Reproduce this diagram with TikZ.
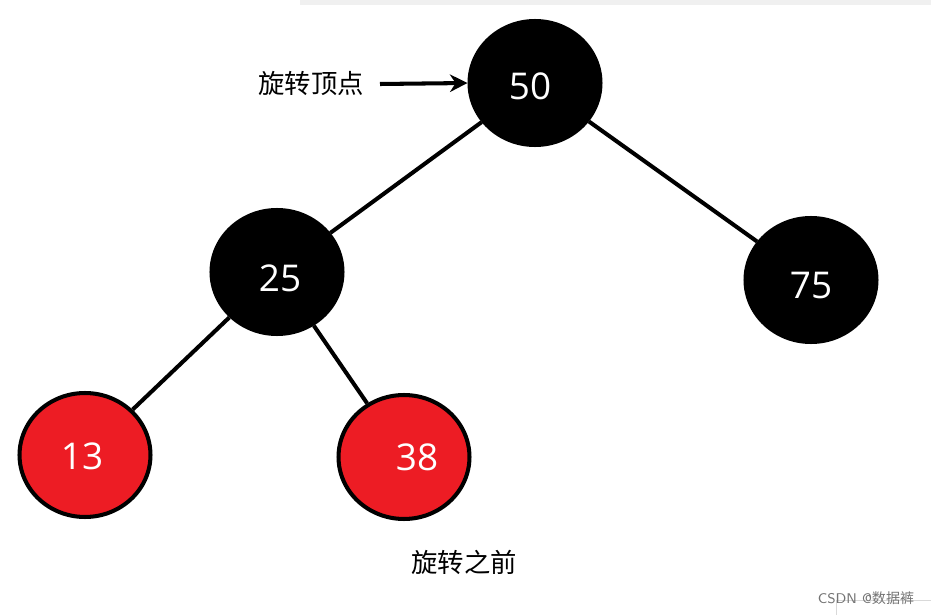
\documentclass[tikz,border=0pt]{standalone}
\usepackage{fontspec}
\setmainfont{Open Sans}
\newfontfamily\cjk{Noto Sans CJK SC}
\usetikzlibrary{shapes.geometric,arrows.meta}
\definecolor{rbred}{HTML}{ED1C24}
\tikzset{
  rb/.style={ellipse, draw=black, line width=2.3pt, inner sep=0pt,
    minimum width=2.62cm, minimum height=2.48cm, text=white,
    font=\fontsize{21}{25}\selectfont},
  blk/.style={rb, fill=black},
  rd/.style={rb, fill=rbred},
  edge/.style={line width=2.3pt}
}
\begin{document}
\begin{tikzpicture}[x=0.02cm,y=-0.02cm]
\useasboundingbox (0,0) rectangle (931,615);
% screen leftovers
\fill[black!6] (300,0) rectangle (931,5);
\draw[black!15, line width=0.5pt] (836,615) -- (836,600) -- (931,600);
\node[text=black!55, font=\fontsize{8}{10}\selectfont\sffamily, inner sep=0pt] (wm) at (866,598) {CSDN @{\cjk 数据裤}};
% tree
\node [blk] (n50) at (535,83) {};
\node [blk] (n25) at (277,272) {};
\node [blk] (n75) at (811,280) {};
\node [rd] (n13) at (85,455) {};
\node [rd] (n38) at (404,457) {};
\node [text=white, font=\fontsize{21}{25}\selectfont] (t50) at (530,86) {50};
\node [text=white, font=\fontsize{21}{25}\selectfont] (t25) at (280,278) {25};
\node [text=white, font=\fontsize{21}{25}\selectfont] (t75) at (811,286) {75};
\node [text=white, font=\fontsize{21}{25}\selectfont] (t13) at (82,456) {13};
\node [text=white, font=\fontsize{21}{25}\selectfont] (t38) at (417,457) {38};
\draw [edge] (n50) -- (n25);
\draw [edge] (n50) -- (n75);
\draw [edge] (n25) -- (n13);
\draw [edge] (n25) -- (n38);
% labels
\node [font=\fontsize{15}{18}\selectfont\cjk, inner sep=0pt] (top) at (311,84) {旋转顶点};
\draw [line width=2.3pt, -{Stealth[length=10pt,width=10pt]}] (380,84) -- (n50.west);
\node [font=\fontsize{15}{18}\selectfont\cjk, inner sep=0pt] (cap) at (464,562) {旋转之前};
\end{tikzpicture}
\end{document}
